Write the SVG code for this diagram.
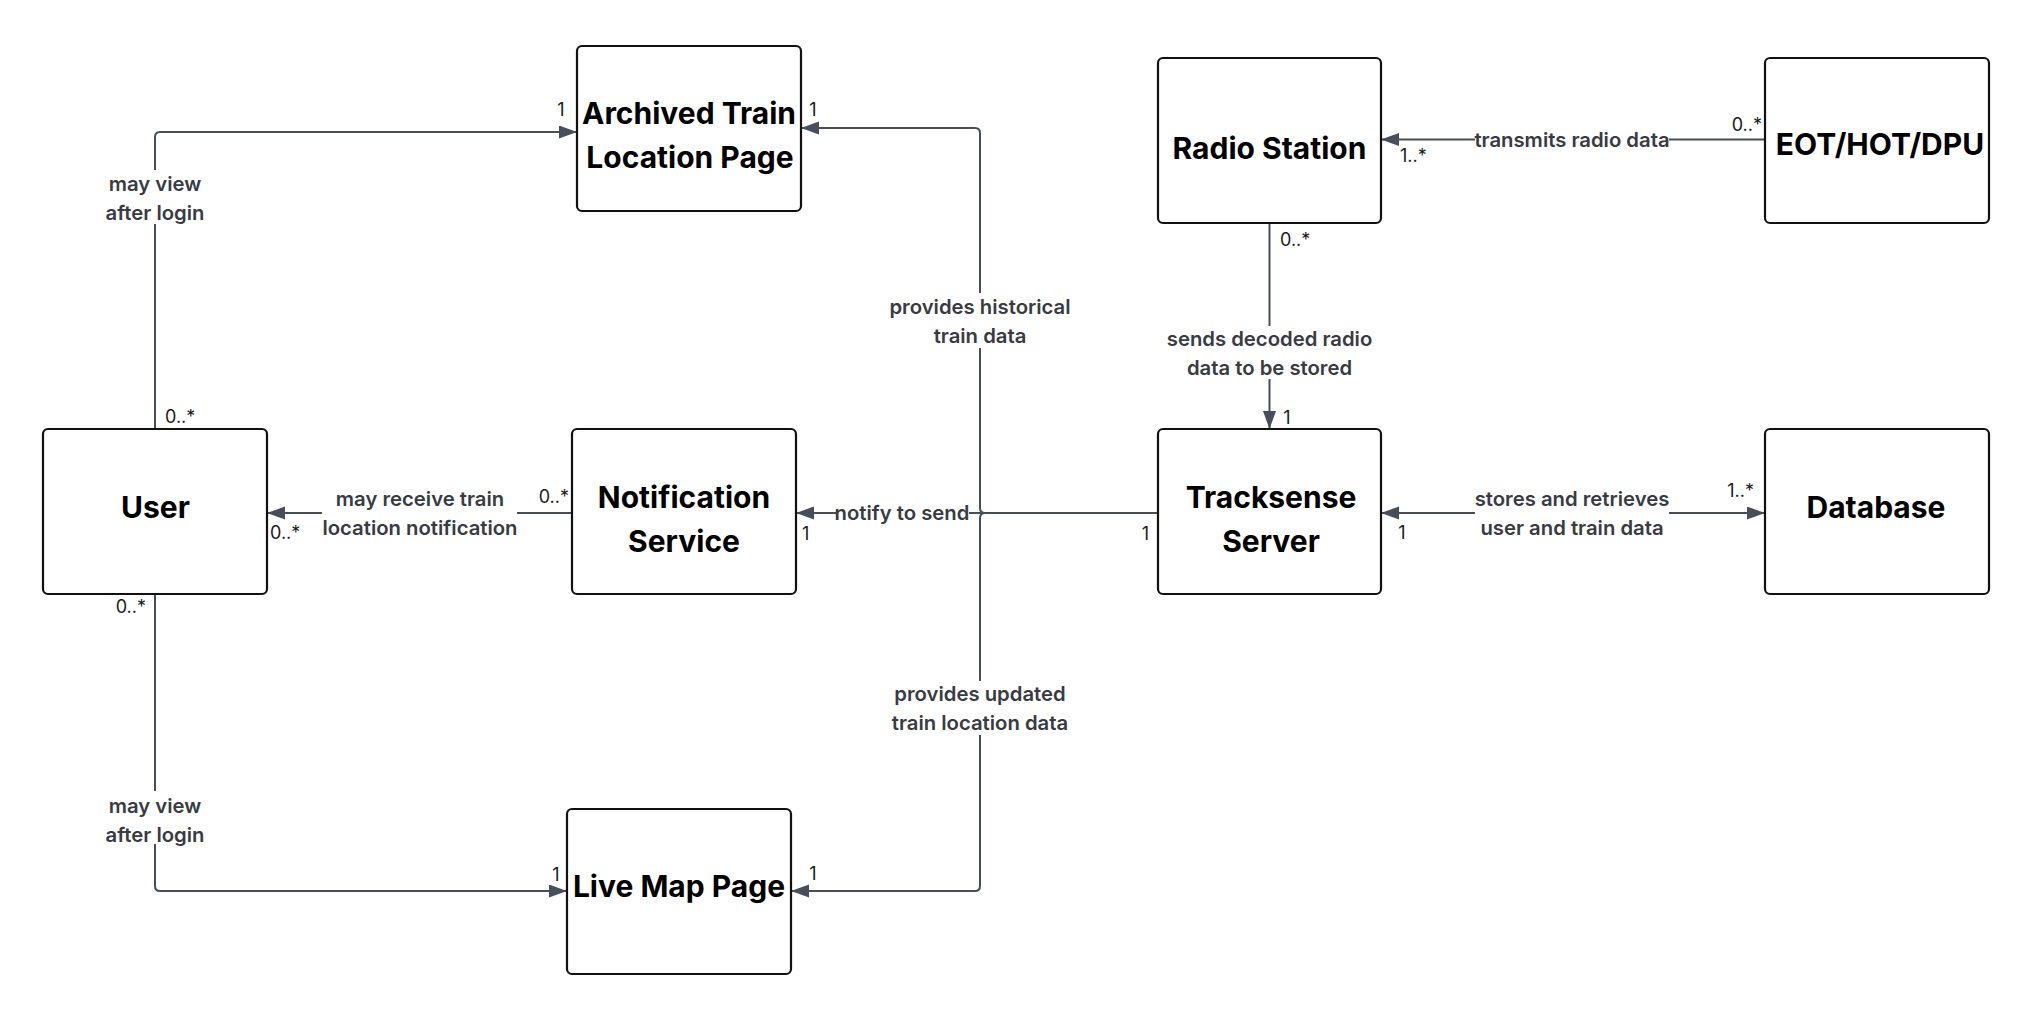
<svg xmlns="http://www.w3.org/2000/svg" width="2034" height="1012" viewBox="0 0 2034 1012">
<style>
.node rect{fill:#ffffff;stroke:#111111;stroke-width:2.2}
.nt{font-family:Inter,"Liberation Sans",sans-serif;font-weight:700;font-size:30px;fill:#000000;text-anchor:middle}
.conn{fill:none;stroke:#474e59;stroke-width:2}
.lbl{font-family:Inter,"Liberation Sans",sans-serif;font-weight:600;font-size:20.3px;fill:#383b42;text-anchor:middle}
.bg{fill:#ffffff}
.m{font-family:Inter,"Liberation Sans",sans-serif;font-weight:400;font-size:18px;fill:#1a1a1a}
</style>
<defs>
<marker id="ah" markerUnits="userSpaceOnUse" markerWidth="19" markerHeight="14" refX="18" refY="6.5" orient="auto-start-reverse">
<path d="M0,0 L18,6.5 L0,13 z" fill="#474e59"/>
</marker>
</defs>
<rect width="2034" height="1012" fill="#ffffff"/>
<g id="connectors">
<path class="conn" d="M155,429 V137 Q155,132 160,132 H577" marker-end="url(#ah)"/>
<path class="conn" d="M155,594 V886 Q155,891 160,891 H567" marker-end="url(#ah)"/>
<path class="conn" d="M1158,513 H985 Q980,513 980,508 V133 Q980,128 975,128 H801" marker-end="url(#ah)"/>
<path class="conn" d="M1158,513 H985 Q980,513 980,518 V886 Q980,891 975,891 H791" marker-end="url(#ah)"/>
<path class="conn" d="M1158,513 H796" marker-end="url(#ah)"/>
<path class="conn" d="M572,513 H267" marker-end="url(#ah)"/>
<path class="conn" d="M1269.5,223 V429" marker-end="url(#ah)"/>
<path class="conn" d="M1765,139.5 H1381" marker-end="url(#ah)"/>
<path class="conn" d="M1381,513 H1765" marker-start="url(#ah)" marker-end="url(#ah)"/>
<!-- labels -->
<rect class="bg" x="103" y="170" width="104" height="54"/>
<text class="lbl" x="155" y="191">may view</text>
<text class="lbl" x="155" y="220">after login</text>
<rect class="bg" x="103" y="791" width="104" height="53"/>
<text class="lbl" x="155" y="813">may view</text>
<text class="lbl" x="155" y="842">after login</text>
<rect class="bg" x="322" y="486" width="195" height="56"/>
<text class="lbl" x="420" y="506">may receive train</text>
<text class="lbl" x="420" y="535">location notification</text>
<rect class="bg" x="836" y="502" width="133" height="22"/>
<text class="lbl" x="902" y="520">notify to send</text>
<rect class="bg" x="887" y="293" width="186" height="55"/>
<text class="lbl" x="980" y="314">provides historical</text>
<text class="lbl" x="980" y="343">train data</text>
<rect class="bg" x="889" y="681" width="182" height="54"/>
<text class="lbl" x="980" y="701">provides updated</text>
<text class="lbl" x="980" y="730">train location data</text>
<rect class="bg" x="1165" y="326" width="209" height="53"/>
<text class="lbl" x="1269.5" y="346">sends decoded radio</text>
<text class="lbl" x="1269.5" y="375">data to be stored</text>
<rect class="bg" x="1475" y="128" width="194" height="24"/>
<text class="lbl" x="1572" y="147">transmits radio data</text>
<rect class="bg" x="1475" y="485" width="194" height="56"/>
<text class="lbl" x="1572" y="506">stores and retrieves</text>
<text class="lbl" x="1572" y="535">user and train data</text>
<!-- multiplicities -->
<text class="m" x="165" y="423">0..*</text>
<text class="m" x="146" y="613" text-anchor="end">0..*</text>
<text class="m" x="270" y="539">0..*</text>
<text class="m" x="569" y="503" text-anchor="end">0..*</text>
<text class="m" x="802" y="540">1</text>
<text class="m" x="1149" y="540" text-anchor="end">1</text>
<text class="m" x="561" y="116" text-anchor="middle">1</text>
<text class="m" x="813" y="116" text-anchor="middle">1</text>
<text class="m" x="556" y="881" text-anchor="middle">1</text>
<text class="m" x="813" y="880" text-anchor="middle">1</text>
<text class="m" x="1400" y="162">1..*</text>
<text class="m" x="1762" y="131" text-anchor="end">0..*</text>
<text class="m" x="1280" y="246">0..*</text>
<text class="m" x="1287" y="424" text-anchor="middle">1</text>
<text class="m" x="1402" y="539" text-anchor="middle">1</text>
<text class="m" x="1754" y="497" text-anchor="end">1..*</text>
</g>
<g id="archived" class="node"><rect x="577" y="46" width="224" height="165" rx="5"/><text class="nt" x="689" y="124">Archived Train</text><text class="nt" x="690" y="168">Location Page</text></g>
<g id="radio" class="node"><rect x="1158" y="58" width="223" height="165" rx="5"/><text class="nt" x="1269.5" y="159">Radio Station</text></g>
<g id="eot" class="node"><rect x="1765" y="58" width="224" height="165" rx="5"/><text class="nt" x="1880" y="155">EOT/HOT/DPU</text></g>
<g id="user" class="node"><rect x="43" y="429" width="224" height="165" rx="5"/><text class="nt" x="155.5" y="518">User</text></g>
<g id="notification" class="node"><rect x="572" y="429" width="224" height="165" rx="5"/><text class="nt" x="684" y="508">Notification</text><text class="nt" x="684" y="552">Service</text></g>
<g id="tracksense" class="node"><rect x="1158" y="429" width="223" height="165" rx="5"/><text class="nt" x="1271" y="508">Tracksense</text><text class="nt" x="1271" y="552">Server</text></g>
<g id="database" class="node"><rect x="1765" y="429" width="224" height="165" rx="5"/><text class="nt" x="1876" y="518">Database</text></g>
<g id="livemap" class="node"><rect x="567" y="809" width="224" height="165" rx="5"/><text class="nt" x="679" y="897">Live Map Page</text></g>
</svg>
